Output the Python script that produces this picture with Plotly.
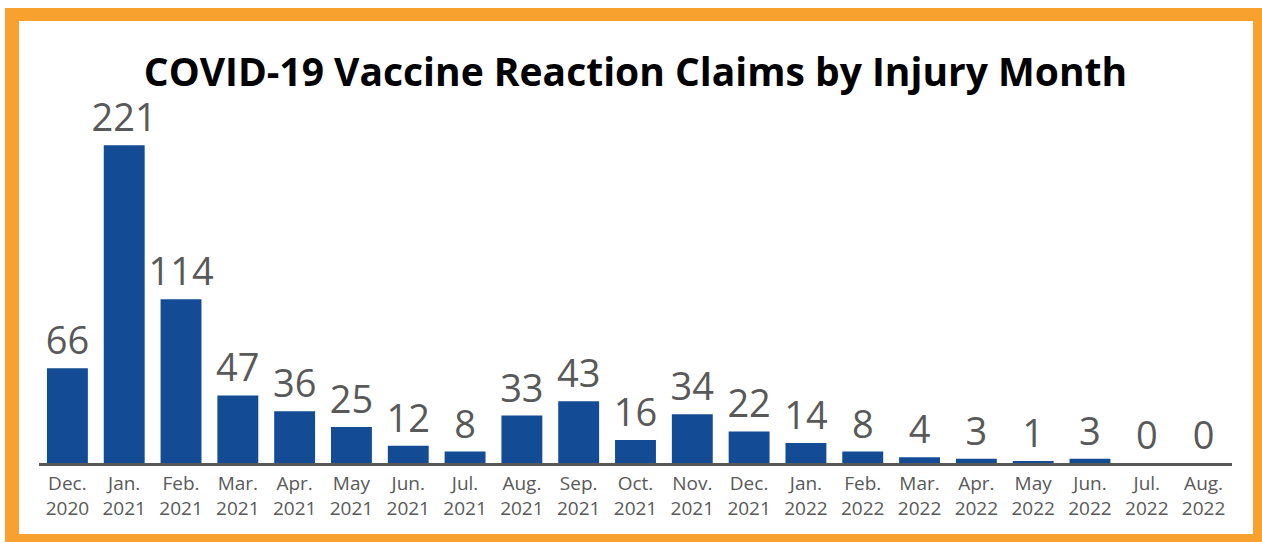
import plotly.graph_objects as go

months = ["Dec.", "Jan.", "Feb.", "Mar.", "Apr.", "May", "Jun.", "Jul.", "Aug.", "Sep.",
          "Oct.", "Nov.", "Dec.", "Jan.", "Feb.", "Mar.", "Apr.", "May", "Jun.", "Jul.", "Aug."]
years = ["2020", "2021", "2021", "2021", "2021", "2021", "2021", "2021", "2021", "2021",
         "2021", "2021", "2021", "2022", "2022", "2022", "2022", "2022", "2022", "2022", "2022"]
claims = [66, 221, 114, 47, 36, 25, 12, 8, 33, 43, 16, 34, 22, 14, 8, 4, 3, 1, 3, 0, 0]

x_idx = list(range(len(months)))
tick_labels = [f"{m}<br>{y}" for m, y in zip(months, years)]

W, H = 1262, 542
ML, MR, MT, MB = 39, 30, 118, 79
PW, PH = W - ML - MR, H - MT - MB


def px_x(p):
    return (p - ML) / PW


def px_y(p):
    return (H - MB - p) / PH


FONT = "Open Sans"

fig = go.Figure(
    go.Bar(
        x=x_idx,
        y=claims,
        marker=dict(color="#134C94", line=dict(width=0)),
        text=[str(v) for v in claims],
        textposition="outside",
        constraintext="none",
        textfont=dict(family=FONT, size=38, color="#595959"),
        cliponaxis=False,
        width=0.72,
    )
)

border = "#F9A12E"
shapes = []
for (x0, y0, x1, y1) in [(5, 8, 19, 542), (5, 8, 1262, 21), (1253, 8, 1262, 542), (5, 534, 1262, 542)]:
    shapes.append(dict(type="rect", xref="paper", yref="paper",
                       x0=px_x(x0), x1=px_x(x1), y0=px_y(y1), y1=px_y(y0),
                       fillcolor=border, line=dict(width=0), layer="above"))

fig.update_layout(
    width=W, height=H,
    margin=dict(l=ML, r=MR, t=MT, b=MB),
    paper_bgcolor="white", plot_bgcolor="white",
    title=dict(text="<b>COVID-19 Vaccine Reaction Claims by Injury Month</b>",
               x=0.5, xref="paper", xanchor="center", y=1 - 72 / H, yanchor="middle",
               font=dict(family=FONT, size=39, color="#000000")),
    xaxis=dict(tickmode="array", tickvals=x_idx, ticktext=tick_labels,
               range=[-0.5, len(x_idx) - 0.5],
               tickfont=dict(family=FONT, size=19, color="#595959"), automargin=False,
               showline=True, linecolor="#595959", linewidth=3, ticks="",
               showgrid=False, zeroline=False, ticklabelstandoff=1),
    yaxis=dict(range=[0, 240], visible=False, showgrid=False, zeroline=False),
    shapes=shapes,
    showlegend=False,
)

fig.write_html("out.html", config={"displayModeBar": False},
               post_script="document.body.style.margin='0';document.body.style.overflow='hidden';")
